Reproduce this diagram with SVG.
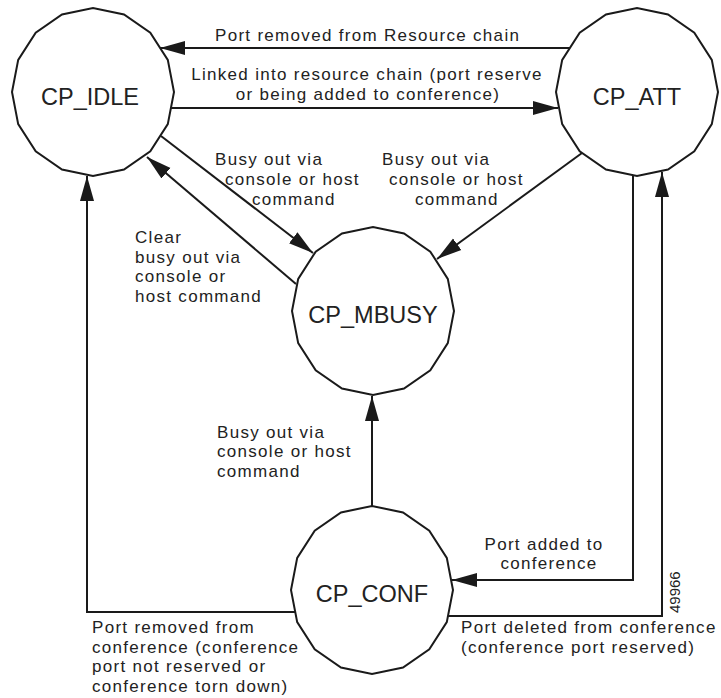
<svg xmlns="http://www.w3.org/2000/svg" width="721" height="698" viewBox="0 0 721 698">
<style>
.node{fill:#fff;stroke:#1a1a1a;stroke-width:2;stroke-linejoin:miter}
.conn{fill:none;stroke:#1a1a1a;stroke-width:2}
.nl{font-family:"Liberation Sans",Arial,sans-serif;font-size:23.5px;fill:#222;text-anchor:middle}
.lb{font-family:"Liberation Sans",Arial,sans-serif;font-size:17px;letter-spacing:1.3px;fill:#222}
.mid{text-anchor:middle}
</style>
<defs>
<marker id="ah" markerUnits="userSpaceOnUse" markerWidth="26" markerHeight="16" refX="25" refY="8" orient="auto">
<path d="M0,1 L25,8 L0,15 z" fill="#1a1a1a"/>
</marker>
</defs>
<rect width="721" height="698" fill="#fff"/>
<g id="connectors">
<line class="conn" x1="570" y1="48" x2="160" y2="48" marker-end="url(#ah)"/>
<line class="conn" x1="171" y1="108" x2="558" y2="108" marker-end="url(#ah)"/>
<line class="conn" x1="161" y1="136" x2="313" y2="253" marker-end="url(#ah)"/>
<line class="conn" x1="296" y1="284" x2="147" y2="157" marker-end="url(#ah)"/>
<line class="conn" x1="582" y1="153" x2="437" y2="259" marker-end="url(#ah)"/>
<line class="conn" x1="372" y1="506" x2="372" y2="396" marker-end="url(#ah)"/>
<polyline class="conn" points="633,175 633,580 452,580" marker-end="url(#ah)"/>
<polyline class="conn" points="448,616 662,616 662,172" marker-end="url(#ah)"/>
<polyline class="conn" points="295,612 87,612 87,176" marker-end="url(#ah)"/>
</g>
<g id="cp_idle">
<polygon class="node" points="174,92 167.8,124.1 150.3,151.4 124,169.6 93,176 62,169.6 35.7,151.4 18.2,124.1 12,92 18.2,59.9 35.7,32.6 62,14.4 93,8 124,14.4 150.3,32.6 167.8,59.9"/>
<text class="nl" x="90" y="105">CP_IDLE</text>
</g>
<g id="cp_att">
<polygon class="node" points="718,92 711.8,124.1 694.3,151.4 668,169.6 637,176 606,169.6 579.7,151.4 562.2,124.1 556,92 562.2,59.9 579.7,32.6 606,14.4 637,8 668,14.4 694.3,32.6 711.8,59.9"/>
<text class="nl" x="637" y="105">CP_ATT</text>
</g>
<g id="cp_mbusy">
<polygon class="node" points="454,311 447.8,343.1 430.3,370.4 404,388.6 373,395 342,388.6 315.7,370.4 298.2,343.1 292,311 298.2,278.9 315.7,251.6 342,233.4 373,227 404,233.4 430.3,251.6 447.8,278.9"/>
<text class="nl" x="373" y="323">CP_MBUSY</text>
</g>
<g id="cp_conf">
<polygon class="node" points="453,590 446.8,622.1 429.3,649.4 403,667.6 372,674 341,667.6 314.7,649.4 297.2,622.1 291,590 297.2,557.9 314.7,530.6 341,512.4 372,506 403,512.4 429.3,530.6 446.8,557.9"/>
<text class="nl" x="372" y="602">CP_CONF</text>
</g>
<g id="labels">
<text class="lb" x="215" y="41">Port removed from Resource chain</text>
<text class="lb mid" x="367" y="80">Linked into resource chain (port reserve</text>
<text class="lb mid" x="368" y="100">or being added to conference)</text>
<text class="lb" x="215" y="165">Busy out via</text>
<text class="lb" x="225" y="185">console or host</text>
<text class="lb" x="252" y="205">command</text>
<text class="lb" x="382" y="165">Busy out via</text>
<text class="lb" x="389" y="185">console or host</text>
<text class="lb" x="415" y="205">command</text>
<text class="lb" x="135" y="243">Clear</text>
<text class="lb" x="135" y="262.5">busy out via</text>
<text class="lb" x="135" y="282">console or</text>
<text class="lb" x="135" y="301.5">host command</text>
<text class="lb" x="217" y="437.5">Busy out via</text>
<text class="lb" x="217" y="457">console or host</text>
<text class="lb" x="217" y="476.5">command</text>
<text class="lb mid" x="544" y="549.5">Port added to</text>
<text class="lb mid" x="549" y="569">conference</text>
<text class="lb" x="461" y="633">Port deleted from conference</text>
<text class="lb" x="461" y="652.5">(conference port reserved)</text>
<text class="lb" x="92" y="633">Port removed from</text>
<text class="lb" x="92" y="652.5">conference (conference</text>
<text class="lb" x="92" y="672">port not reserved or</text>
<text class="lb" x="92" y="691.5">conference torn down)</text>
<text class="lb" x="680" y="613" transform="rotate(-90 680 613)" style="font-size:15px;letter-spacing:0">49966</text>
</g>
</svg>
